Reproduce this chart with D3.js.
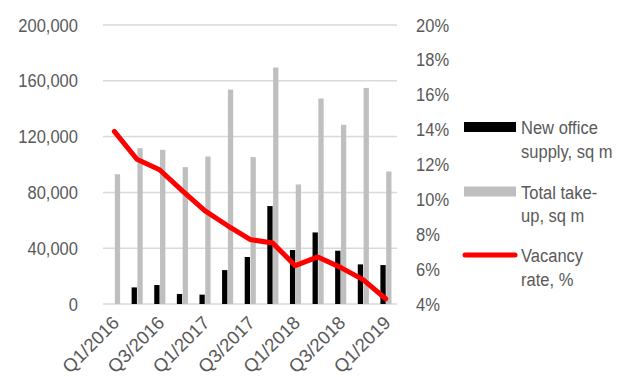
<!DOCTYPE html>
<html>
<head>
<meta charset="utf-8">
<script src="https://cdn.jsdelivr.net/npm/d3@7"></script>
<style>
  body { margin: 0; background: #fff; }
  text { font-family: "Liberation Sans", Arial, sans-serif; fill: #595959; }
</style>
</head>
<body>
<div id="chart"></div>
<script>
// quarters, and the every-other labels shown on the axis
var quarters = ["Q1/2016", "Q2/2016", "Q3/2016", "Q4/2016", "Q1/2017", "Q2/2017", "Q3/2017",
                "Q4/2017", "Q1/2018", "Q2/2018", "Q3/2018", "Q4/2018", "Q1/2019"];
var shownLabels = ["Q1/2016", "Q3/2016", "Q1/2017", "Q3/2017", "Q1/2018", "Q3/2018", "Q1/2019"];

// series values
var newSupply = [0, 11900, 13600, 7200, 6700, 24300, 33700, 70200, 38700, 51300, 38200, 28400, 27900];
var takeUp = [93000, 111700, 110500, 98100, 105700, 153700, 105300, 169500, 85700, 147300, 128400, 154900, 95000];
var vacancy = [13.9, 12.3, 11.7, 10.5, 9.35, 8.5, 7.7, 7.5, 6.2, 6.7, 6.1, 5.4, 4.3];

var leftTicks = [0, 40000, 80000, 120000, 160000, 200000];
var rightTicks = [4, 6, 8, 10, 12, 14, 16, 18, 20];

var width = 633, height = 377;
var margin = {left: 103, right: 236, top: 25, bottom: 73};
var squeeze = "scale(0.87,1)";

var svg = d3.select("#chart").append("svg")
  .attr("width", width)
  .attr("height", height);

var x = d3.scaleBand().domain(quarters).range([margin.left, width - margin.right]);
var yL = d3.scaleLinear().domain([0, 200000]).range([height - margin.bottom, margin.top]);
var yR = d3.scaleLinear().domain([4, 20]).range([height - margin.bottom, margin.top]);
var mid = function(q) { return x(q) + x.bandwidth() / 2; };

// gridlines
svg.append("g").selectAll("line")
  .data(leftTicks)
  .enter().append("line")
    .attr("x1", margin.left).attr("x2", width - margin.right)
    .attr("y1", yL).attr("y2", yL)
    .attr("stroke", "#d9d9d9").attr("stroke-width", 1.5);

// left axis
var leftAxis = svg.append("g")
  .attr("transform", "translate(" + (margin.left - 25) + ",0)")
  .call(d3.axisLeft(yL).tickValues(leftTicks).tickSize(0).tickPadding(0).tickFormat(d3.format(",")));
leftAxis.select(".domain").remove();
leftAxis.selectAll("text").style("font-size", "19px").attr("transform", squeeze);

// right axis
var rightAxis = svg.append("g")
  .attr("transform", "translate(" + (width - margin.right + 19) + ",0)")
  .call(d3.axisRight(yR).tickValues(rightTicks).tickSize(0).tickPadding(0).tickFormat(function(d) { return d + "%"; }));
rightAxis.select(".domain").remove();
rightAxis.selectAll("text").style("font-size", "19px").attr("transform", squeeze);

// x labels
svg.append("g").selectAll("text")
  .data(shownLabels)
  .enter().append("text")
    .attr("transform", function(d) { return "translate(" + (mid(d) + 6) + "," + (height - margin.bottom + 20) + ") rotate(-45)"; })
    .attr("text-anchor", "end")
    .style("font-size", "18.5px")
    .text(function(d) { return d; });

// bars
var barW = 5.3;
svg.append("g").selectAll("rect")
  .data(quarters)
  .enter().append("rect")
    .attr("x", function(d) { return mid(d) - barW; })
    .attr("y", function(d, i) { return yL(newSupply[i]); })
    .attr("width", barW)
    .attr("height", function(d, i) { return yL(0) - yL(newSupply[i]); })
    .attr("fill", "#000");

svg.append("g").selectAll("rect")
  .data(quarters)
  .enter().append("rect")
    .attr("x", function(d) { return mid(d) + 0.5; })
    .attr("y", function(d, i) { return yL(takeUp[i]); })
    .attr("width", barW)
    .attr("height", function(d, i) { return yL(0) - yL(takeUp[i]); })
    .attr("fill", "#bfbfbf");

// vacancy line
var line = d3.line()
  .x(function(d, i) { return mid(quarters[i]); })
  .y(function(d) { return yR(d); });

svg.append("path")
  .datum(vacancy)
  .attr("d", line)
  .attr("fill", "none")
  .attr("stroke", "#ff0000")
  .attr("stroke-width", 5)
  .attr("stroke-linejoin", "round")
  .attr("stroke-linecap", "round");

// legend
var legend = [
  {lines: ["New office", "supply, sq m"], kind: "rect", color: "#000", y: 127},
  {lines: ["Total take-", "up, sq m"], kind: "rect", color: "#bfbfbf", y: 191.5},
  {lines: ["Vacancy", "rate, %"], kind: "line", color: "#ff0000", y: 255}
];

var lg = svg.append("g").selectAll("g")
  .data(legend)
  .enter().append("g");

lg.filter(function(d) { return d.kind === "rect"; })
  .append("rect")
    .attr("x", 464).attr("y", function(d) { return d.y - 5; })
    .attr("width", 52).attr("height", 10)
    .attr("fill", function(d) { return d.color; });

lg.filter(function(d) { return d.kind === "line"; })
  .append("line")
    .attr("x1", 465).attr("x2", 515)
    .attr("y1", function(d) { return d.y; }).attr("y2", function(d) { return d.y; })
    .attr("stroke", function(d) { return d.color; })
    .attr("stroke-width", 5).attr("stroke-linecap", "round");

lg.append("text")
  .attr("transform", function(d) { return "translate(521," + (d.y + 7) + ") " + squeeze; })
  .style("font-size", "19px")
  .selectAll("tspan")
  .data(function(d) { return d.lines; })
  .enter().append("tspan")
    .attr("x", 0)
    .attr("dy", function(d, i) { return i === 0 ? 0 : 24; })
    .text(function(d) { return d; });
</script>
</body>
</html>
